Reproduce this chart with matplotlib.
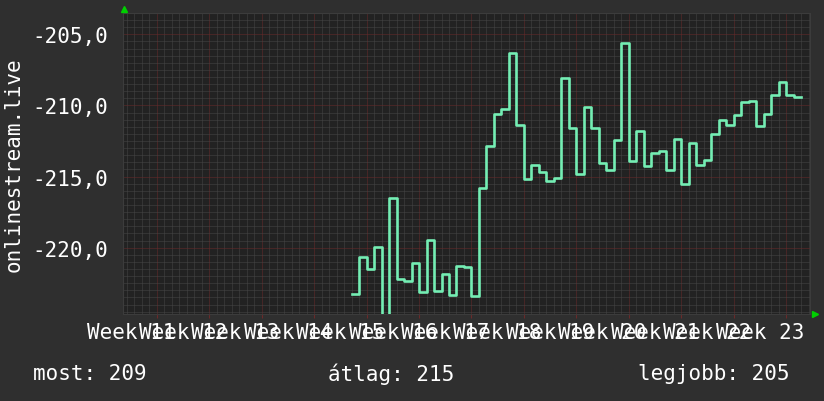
import numpy as np
import matplotlib
matplotlib.use('Agg')
from matplotlib import pyplot as plt

# napi értékek (nap index 26-tól)
start_day = 26
values = [-223.27, -220.68, -221.49, -219.93, -225.5, -216.54, -222.19, -222.36, -221.05, -223.08,
          -219.49, -223.01, -221.82, -223.34, -221.31, -221.38, -223.41, -215.77, -212.83, -210.61,
          -210.26, -206.33, -211.36, -215.16, -214.18, -214.65, -215.28, -215.09, -208.04, -211.56,
          -214.79, -210.09, -211.56, -214.02, -214.51, -212.41, -205.58, -213.88, -211.77, -214.23,
          -213.34, -213.18, -214.51, -212.36, -215.51, -212.64, -214.18, -213.81, -212.01, -211.03,
          -211.36, -210.68, -209.74, -209.70, -211.45, -210.59, -209.25, -208.34, -209.25, -209.42]
week_labels = ['Week %d' % w for w in range(11, 24)]
y_ticks = [-205, -210, -215, -220]
legend_texts = ['most: 209', 'átlag: 215', 'legjobb: 205']
ylabel = 'onlinestream.live'

W, H = 824, 402
fig = plt.figure(figsize=(W / 100, H / 100), dpi=100, facecolor='#2f2f2f')
plt.rcParams['font.family'] = ['DejaVu Sans Mono']

left, right, top, bottom = 123.5, 810, 14, 315
ax = fig.add_axes([left / W, 1 - bottom / H, (right - left) / W, (bottom - top) / H])
ax.set_facecolor('#222222')

x = np.arange(start_day, start_day + len(values) + 1)
y = values + [values[-1]]
ax.step(x, y, where='post', color='#74eeb4', lw=1.9, zorder=5)

ax.set_xlim(-4.46, 87.2)
ax.set_ylim(-224.66, -203.53)

# rács: halvány pöttyözött
ax.set_xticks(np.arange(0, 85, 7))
ax.set_xticks(np.arange(-4, 88, 1), minor=True)
ax.set_yticks(y_ticks)
ax.set_yticks(np.arange(-224.5, -203.4, 0.5), minor=True)
ax.grid(which='minor', color='#464646', lw=0.72, ls=(0, (1, 1)))
ax.grid(which='major', color='#6a2a2a', lw=0.72, ls=(0, (1, 1)))
ax.set_axisbelow(True)
ax.set_xticklabels([])
ax.set_yticklabels([('%.1f' % v).replace('.', ',') for v in y_ticks])
ax.tick_params(axis='y', which='major', colors='white', labelsize=15, length=0, pad=11)
ax.tick_params(axis='both', which='minor', length=0)
ax.tick_params(axis='x', which='major', length=3, color='#6a2a2a')
for s in ax.spines.values():
    s.set_color('#3c3c3c')
    s.set_linewidth(0.8)

for i, lab in enumerate(week_labels):
    ax.text(-3.5 + 7 * i, -0.027, lab, transform=ax.get_xaxis_transform(),
            ha='center', va='top', color='white', fontsize=15)

fig.text(14 / W, 1 - 165 / H, ylabel, rotation=90, ha='center', va='center',
         color='white', fontsize=15)

# nyilak
fig.add_artist(plt.Line2D([124 / W], [1 - 10 / H], marker='^', color='#00d000', ms=5, ls=''))
fig.add_artist(plt.Line2D([815 / W], [1 - 315 / H], marker='>', color='#00d000', ms=5, ls=''))

for xpos, t in zip([33, 328, 638], legend_texts):
    fig.text(xpos / W, 1 - 374 / H, t, ha='left', va='center', color='white', fontsize=15)

fig.savefig('out.png', dpi=100, facecolor=fig.get_facecolor())
